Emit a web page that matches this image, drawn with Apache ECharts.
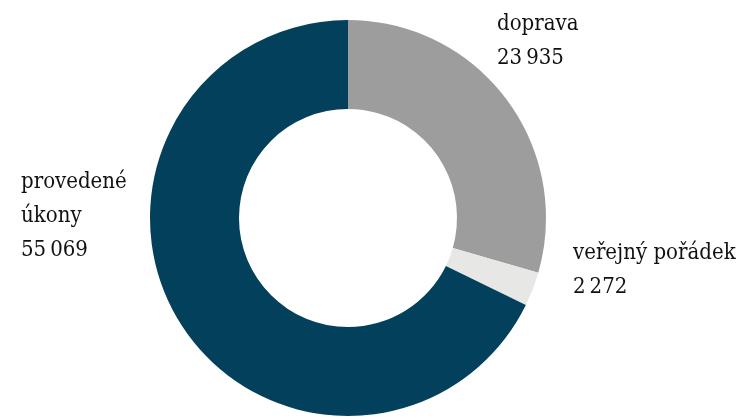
<!DOCTYPE html>
<html>
<head>
<meta charset="utf-8">
<script src="https://cdn.jsdelivr.net/npm/echarts@6/dist/echarts.min.js"></script>
<style>
html,body{margin:0;padding:0;background:#fff;}
#c{width:745px;height:419px;}
</style>
</head>
<body>
<div id="c"></div>
<script>
const categories = ['doprava', 'veřejný pořádek', 'provedené úkony'];
const values = [23935, 2272, 55069];
const colors = ['#9d9d9d', '#e7e7e5', '#03405b'];

const labelPos = [
  {x: 497, y: 7},
  {x: 573, y: 236},
  {x: 21, y: 165}
];

function fmt(v) {
  return String(v).replace(/\B(?=(\d{3})+(?!\d))/g, '\u2009');
}

const chart = echarts.init(document.getElementById('c'), null, {renderer: 'canvas'});
chart.setOption({
  animation: false,
  series: [{
    type: 'pie',
    center: [348, 218],
    radius: [109, 198],
    startAngle: 90,
    clockwise: true,
    avoidLabelOverlap: false,
    labelLine: {show: false},
    label: {
      show: true,
      position: 'outside',
      color: '#111111',
      fontFamily: 'DejaVu Serif Condensed',
      fontSize: 22,
      lineHeight: 34,
      formatter: p => p.name + '\n' + fmt(p.value)
    },
    labelLayout: p => ({
      x: labelPos[p.dataIndex].x,
      y: labelPos[p.dataIndex].y,
      align: 'left',
      verticalAlign: 'top',
      hideOverlap: false
    }),
    itemStyle: {borderWidth: 0},
    emphasis: {disabled: true},
    data: categories.map((n, i) => ({
      name: n,
      value: values[i],
      itemStyle: {color: colors[i]},
      label: i === 2 ? {width: 140, overflow: 'break'} : {overflow: 'none'}
    }))
  }]
});
</script>
</body>
</html>
